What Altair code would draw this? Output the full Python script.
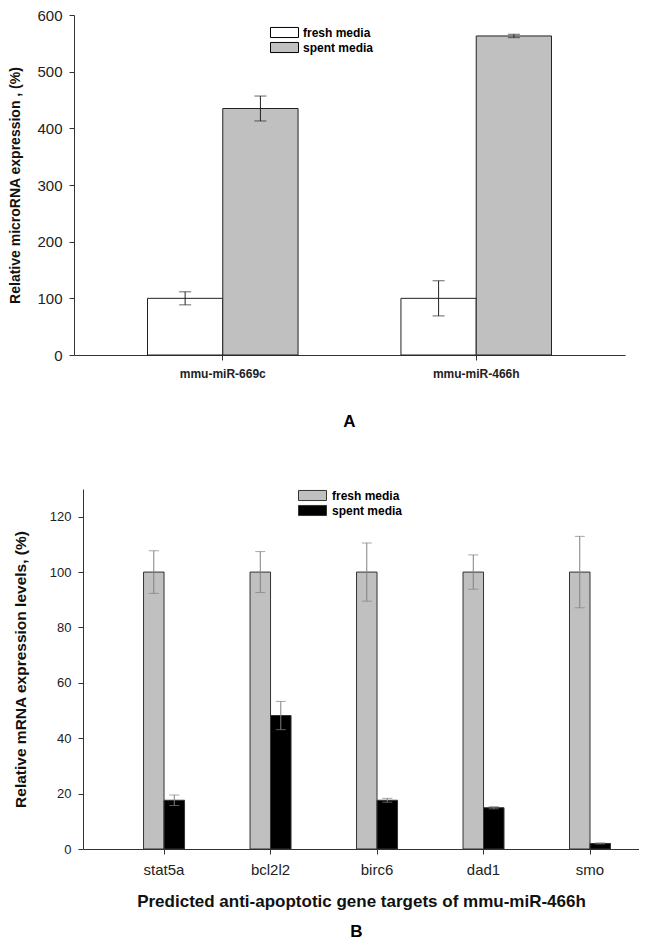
import altair as alt
import pandas as pd

FONT = "Liberation Sans"

# ---- Panel A data ----
mirnas = ["mmu-miR-669c", "mmu-miR-466h"]
series = ["fresh media", "spent media"]
a_fresh = [100, 100]
a_fresh_err = [11.5, 31]
a_spent = [435, 563]
a_spent_err = [22, 3]

# ---- Panel B data ----
genes = ["stat5a", "bcl2l2", "birc6", "dad1", "smo"]
b_fresh = [100, 100, 100, 100, 100]
b_fresh_err = [7.7, 7.4, 10.5, 6.2, 12.9]
b_spent = [17.6, 48.2, 17.6, 14.9, 2.0]
b_spent_err = [1.9, 5.1, 0.7, 0.4, 0.2]

A_TICKS = [0, 100, 200, 300, 400, 500, 600]
B_TICKS = [0, 20, 40, 60, 80, 100, 120]

RECT = "M-2,-0.72L2,-0.72L2,0.72L-2,0.72Z"


def frame(cats, fresh, fresh_err, spent, spent_err):
    df = pd.DataFrame({
        "cat": list(cats) * 2,
        "series": [series[0]] * len(cats) + [series[1]] * len(cats),
        "value": list(fresh) + list(spent),
        "err": list(fresh_err) + list(spent_err),
    })
    df["lo"] = df["value"] - df["err"]
    df["hi"] = df["value"] + df["err"]
    return df


def panel(df, cats, xscale, yscale, yticks, ytitle, xtitle, colors, stroke,
          errcolor, capsize, xlab_bold, xlab_size, ylab_size, ytitle_size,
          legend, width, height, title, title_offset, ytitle_pad,
          xlab_pad, xtitle_pad, xtitle_size, y_offset):
    x = alt.X("cat:N", sort=cats, scale=xscale,
              axis=alt.Axis(title=xtitle, labelAngle=0,
                            labelFontWeight="bold" if xlab_bold else "normal",
                            labelFontSize=xlab_size, labelPadding=xlab_pad,
                            titlePadding=xtitle_pad, titleFontSize=xtitle_size))
    xo = alt.XOffset("series:N", sort=series)
    base = alt.Chart(df)
    bars = base.mark_bar(stroke=stroke, strokeWidth=1).encode(
        x=x, xOffset=xo,
        y=alt.Y("value:Q", scale=yscale,
                axis=alt.Axis(values=yticks, title=ytitle, grid=False,
                              labelFontSize=ylab_size, labelPadding=7,
                              offset=y_offset,
                              titlePadding=ytitle_pad, titleFontSize=ytitle_size)),
        color=alt.Color("series:N", scale=alt.Scale(domain=series, range=colors),
                        legend=legend),
    )
    rules = base.mark_rule(color=errcolor, strokeWidth=1).encode(
        x=x, xOffset=xo, y="lo:Q", y2="hi:Q")
    caps = base.transform_fold(["lo", "hi"], as_=["end", "v"]).mark_tick(
        color=errcolor, size=capsize, thickness=1).encode(
        x=x, xOffset=xo, y=alt.Y("v:Q"))
    return alt.layer(bars, rules, caps).properties(
        width=width, height=height,
        title=alt.TitleParams(title, orient="bottom", fontSize=17, fontWeight="bold",
                              font=FONT, offset=title_offset, anchor="middle"))


dfA = frame(mirnas, a_fresh, a_fresh_err, a_spent, a_spent_err)
dfB = frame(genes, b_fresh, b_fresh_err, b_spent, b_spent_err)

legA = alt.Legend(title=None, orient="none", legendX=203, legendY=10, padding=0,
                  symbolType=RECT, symbolSize=196, symbolStrokeColor="black",
                  symbolStrokeWidth=1, symbolOpacity=1, labelFont=FONT, labelFontSize=12,
                  labelFontWeight="bold", labelOffset=11, rowPadding=-2)
legB = alt.Legend(title=None, orient="none", legendX=231, legendY=-1, padding=0,
                  symbolType=RECT, symbolSize=196, symbolStrokeColor="#333",
                  symbolStrokeWidth=1, symbolOpacity=1, labelFont=FONT, labelFontSize=12,
                  labelFontWeight="bold", labelOffset=12, rowPadding=0)

chartA = panel(dfA, mirnas,
               alt.Scale(paddingInner=0.406, paddingOuter=0.29),
               alt.Scale(domain=[0, 600], nice=False), A_TICKS,
               "Relative microRNA expression , (%)", None,
               ["white", "#c0c0c0"], "#222", "#222", 12, True, 12, 15, 14,
               legA, 551, 340, "A", 35, 14, 8, 12, 14, 0)

chartB = panel(dfB, genes,
               alt.Scale(paddingInner=0.615, paddingOuter=0.418, align=0.68,
                         range=[9, 565]),
               alt.Scale(domain=[0, 130], nice=False), B_TICKS,
               "Relative mRNA expression levels, (%)",
               "Predicted anti-apoptotic gene  targets of mmu-miR-466h",
               ["#c0c0c0", "#000000"], "#333", "#808080", 10, False, 15, 13, 15.5,
               legB, 565, 360, "B", 15, 21, 8, 16, 17, -9)

chart = alt.vconcat(chartA, chartB, spacing=58).resolve_scale(
    color="independent", x="independent", y="independent", xOffset="independent"
).properties(
    padding={"left": 0, "top": 0, "right": 0, "bottom": 0}, background="white"
).configure_view(
    stroke=None
).configure_axis(
    labelFont=FONT, titleFont=FONT, labelColor="#222",
    titleColor="#111", titleFontWeight="bold", domainColor="#333", tickColor="#333",
    tickSize=5, domainWidth=1, tickWidth=1
)

chart.save("out.html", embed_options={"renderer": "svg", "actions": False})
